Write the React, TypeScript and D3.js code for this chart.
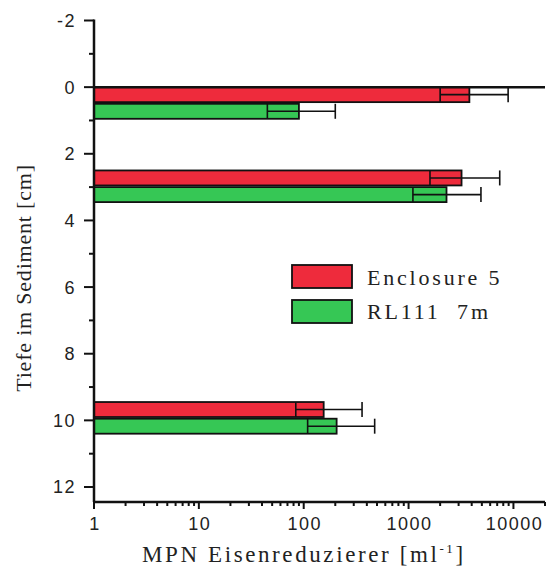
import React from "react";
import * as d3 from "d3";

const groupTops = [0, 2.5, 9.45];
const barThickness = 0.45;
const enclosureValues = [3800, 3200, 155];
const enclosureLow = [2000, 1600, 84];
const enclosureHigh = [8900, 7400, 360];
const rlValues = [90, 2300, 206];
const rlLow = [45, 1100, 109];
const rlHigh = [200, 4900, 475];
const xTicks = [1, 10, 100, 1000, 10000];
const yTicks = [-2, 0, 2, 4, 6, 8, 10, 12];
const seriesNames = ["Enclosure 5", "RL111  7m"];
const seriesColors = ["#ee2b3c", "#36c755"];

export default function App() {
  const W = 549, H = 583;
  const left = 94, right = 545, top = 20.5, bottom = 502;
  const x = d3.scaleLog().domain([1, 20000]).range([left, right]);
  const y = d3.scaleLinear().domain([-2, 12.45]).range([top, bottom]);
  const minorX: number[] = [];
  for (let d = 1; d <= 10000; d *= 10) for (let k = 2; k <= 9; k++) if (d * k <= 20000) minorX.push(d * k);
  const minorY = d3.range(-1, 13, 2);

  const series = [
    { vals: enclosureValues, lo: enclosureLow, hi: enclosureHigh, off: 0 },
    { vals: rlValues, lo: rlLow, hi: rlHigh, off: barThickness + 0.05 },
  ];
  const sans = "Liberation Sans, Arial, sans-serif";
  const serif = "Liberation Serif, Times New Roman, serif";

  return (
    <svg width={W} height={H} style={{ position: "absolute", left: 0, top: 0, background: "#fff" }}>
      {series.map((s, si) =>
        groupTops.map((g, i) => {
          const y0 = y(g + s.off);
          const y1 = y(g + s.off + barThickness);
          const yc = (y0 + y1) / 2;
          return (
            <g key={`${si}-${i}`}>
              <rect x={x(1)} y={y0} width={x(s.vals[i]) - x(1)} height={y1 - y0}
                fill={seriesColors[si]} stroke="#111" strokeWidth={1.8} />
              <line x1={x(s.lo[i])} x2={x(s.hi[i])} y1={yc} y2={yc} stroke="#111" strokeWidth={1.6} />
              <line x1={x(s.lo[i])} x2={x(s.lo[i])} y1={y0} y2={y1} stroke="#111" strokeWidth={1.6} />
              <line x1={x(s.hi[i])} x2={x(s.hi[i])} y1={y0} y2={y1} stroke="#111" strokeWidth={1.6} />
            </g>
          );
        })
      )}
      <line x1={left} x2={right} y1={y(0)} y2={y(0)} stroke="#111" strokeWidth={2.5} />
      <line x1={left} x2={left} y1={top - 1} y2={bottom} stroke="#111" strokeWidth={2.5} />
      <line x1={left} x2={right} y1={bottom} y2={bottom} stroke="#111" strokeWidth={2.5} />
      {yTicks.map((t) => (
        <g key={`yt${t}`}>
          <line x1={left - 10} x2={left} y1={y(t)} y2={y(t)} stroke="#111" strokeWidth={2} />
          <text x={left - 18} y={y(t)} dy="0.36em" textAnchor="end" fontFamily={sans} fontSize={18} letterSpacing={1.5} fill="#222">{t}</text>
        </g>
      ))}
      {minorY.map((t) => (
        <line key={`ym${t}`} x1={left - 5} x2={left} y1={y(t)} y2={y(t)} stroke="#111" strokeWidth={2} />
      ))}
      {xTicks.map((t) => (
        <g key={`xt${t}`}>
          <line x1={x(t)} x2={x(t)} y1={bottom} y2={bottom + 7} stroke="#111" strokeWidth={2} />
          <text x={x(t) + 1} y={bottom + 28} textAnchor="middle" fontFamily={sans} fontSize={18} letterSpacing={1.5} fill="#222">{t}</text>
        </g>
      ))}
      {minorX.map((t) => (
        <line key={`xm${t}`} x1={x(t)} x2={x(t)} y1={bottom} y2={bottom + 4} stroke="#111" strokeWidth={2} />
      ))}
      <text x={142} y={562} textAnchor="start" fontFamily={serif} fontSize={23} letterSpacing={2.6} fill="#222">
        MPN Eisenreduzierer [ml<tspan dy={-9} fontSize={13}>-1</tspan><tspan dy={9}>]</tspan>
      </text>
      <text transform={`translate(31,278) rotate(-90)`} textAnchor="middle" fontFamily={serif} fontSize={22} letterSpacing={0.8} fill="#222">
        Tiefe im Sediment [cm]
      </text>
      {seriesNames.map((n, i) => (
        <g key={n}>
          <rect x={292} y={265 + i * 35} width={60} height={23} fill={seriesColors[i]} stroke="#111" strokeWidth={1.8} />
          <text x={367} y={285 + i * 34} fontFamily={serif} fontSize={22} letterSpacing={2.8} fill="#222" style={{ whiteSpace: "pre" }}>{n}</text>
        </g>
      ))}
    </svg>
  );
}
